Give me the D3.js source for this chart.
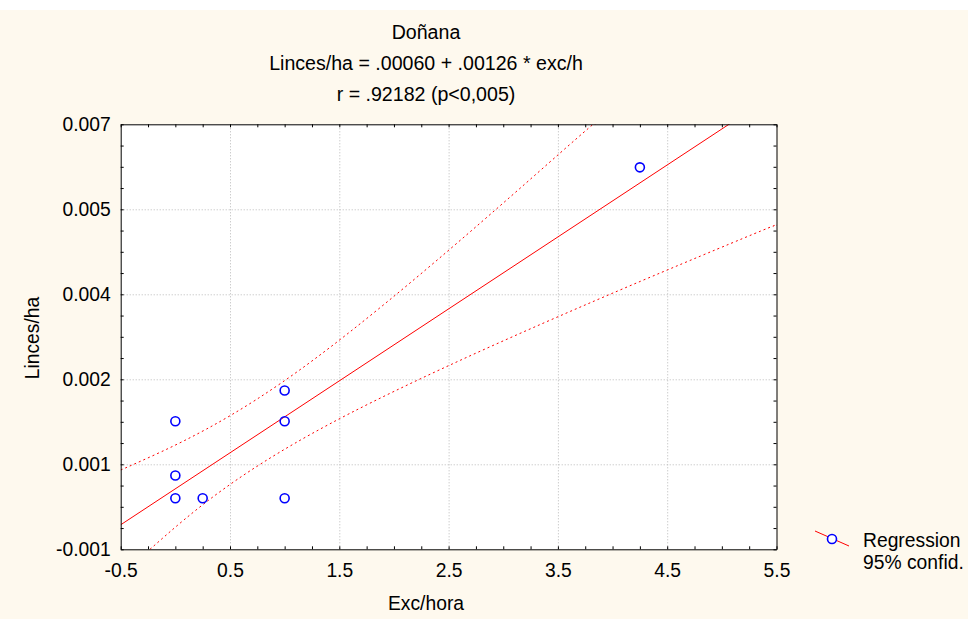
<!DOCTYPE html>
<html>
<head>
<meta charset="utf-8">
<script src="https://cdn.jsdelivr.net/npm/d3@7"></script>
<style>
  html, body { margin: 0; padding: 0; background: #ffffff; }
  svg { display: block; font-family: "Liberation Sans", Arial, sans-serif; }
</style>
</head>
<body>
<svg id="chart" width="968" height="619"></svg>
<script>
// ---- data ----
const excHora   = [0, 0, 0, 0.25, 1, 1, 1, 4.25];
const lincesHa  = [0.00141, 0.00039, -0.00004, -0.00004, 0.00199, 0.00141, -0.00004, 0.00619];

const xTickValues = [-0.5, 0.5, 1.5, 2.5, 3.5, 4.5, 5.5];
const xTickLabels = ["-0.5", "0.5", "1.5", "2.5", "3.5", "4.5", "5.5"];
const yTickValues = [-0.001, 0.0006, 0.0022, 0.0038, 0.0054, 0.007];
const yTickLabels = ["-0.001", "0.001", "0.002", "0.004", "0.005", "0.007"];

// 95% confidence band
const upperBandX = [-0.5, 1.262, 3.517, 3.838];
const upperBandY = [0.000492, 0.002563, 0.006454, 0.00699];
const lowerBandX = [-0.232, 1.598, 4.953, 5.471];
const lowerBandY = [-0.001, 0.00156, 0.004647, 0.005072];

const titleLines = ["Doñana", "Linces/ha = .00060 + .00126 * exc/h", "r = .92182 (p<0,005)"];
const xTitle = "Exc/hora";
const yTitle = "Linces/ha";
const legendLabels = ["Regression", "95% confid."];

// ---- layout ----
const W = 968, H = 619;
const L = 120.7, R = 776.5, T = 124.3, B = 549.3;
const svg = d3.select("#chart");

svg.append("rect").attr("x", 0).attr("y", 0).attr("width", W).attr("height", H).attr("fill", "#ffffff");
svg.append("rect").attr("x", 0).attr("y", 10).attr("width", W).attr("height", H - 10).attr("fill", "#fef9ee");
svg.append("rect").attr("x", L).attr("y", T).attr("width", R - L).attr("height", B - T).attr("fill", "#ffffff");

const x = d3.scaleLinear().domain([-0.5, 5.5]).range([L, R]);
const y = d3.scaleLinear().domain([-0.001, 0.007]).range([B, T]);

// grid
const grid = svg.append("g").attr("class", "grid");
grid.append("g").attr("transform", `translate(0,${B})`)
  .call(d3.axisBottom(x).tickValues(xTickValues.slice(1, -1)).tickSize(-(B - T)).tickFormat(""))
  .call(g => g.select(".domain").remove())
  .call(g => g.selectAll("line").attr("stroke", "#b8b8b8").attr("stroke-dasharray", "1,2"));
grid.append("g").attr("transform", `translate(${L},0)`)
  .call(d3.axisLeft(y).tickValues(yTickValues.slice(1, -1)).tickSize(-(R - L)).tickFormat(""))
  .call(g => g.select(".domain").remove())
  .call(g => g.selectAll("line").attr("stroke", "#b8b8b8").attr("stroke-dasharray", "1,2"));

// clip
svg.append("clipPath").attr("id", "plotclip")
  .append("rect").attr("x", L).attr("y", T).attr("width", R - L).attr("height", B - T);
const plot = svg.append("g").attr("clip-path", "url(#plotclip)");

// regression (least squares from the points)
const n = excHora.length;
const mx = d3.mean(excHora), my = d3.mean(lincesHa);
let sxy = 0, sxx = 0;
for (let i = 0; i < n; i++) { sxy += (excHora[i] - mx) * (lincesHa[i] - my); sxx += (excHora[i] - mx) ** 2; }
const slope = sxy / sxx, intercept = my - slope * mx;
const xDom = x.domain();
plot.append("line")
  .attr("x1", x(xDom[0])).attr("y1", y(intercept + slope * xDom[0]))
  .attr("x2", x(xDom[1])).attr("y2", y(intercept + slope * xDom[1]))
  .attr("stroke", "#ff0000").attr("stroke-width", 1);

const bandLine = d3.line().x(d => x(d[0])).y(d => y(d[1])).curve(d3.curveNatural);
[[upperBandX, upperBandY], [lowerBandX, lowerBandY]].forEach(([bx, by]) => {
  plot.append("path")
    .attr("d", bandLine(bx.map((v, i) => [v, by[i]])))
    .attr("fill", "none").attr("stroke", "#ff0000").attr("stroke-width", 1)
    .attr("stroke-dasharray", "2,3");
});

// points
svg.append("g").selectAll("circle").data(excHora.map((v, i) => [v, lincesHa[i]])).join("circle")
  .attr("cx", d => x(d[0])).attr("cy", d => y(d[1])).attr("r", 4.5)
  .attr("fill", "none").attr("stroke", "#0000ff").attr("stroke-width", 1.6);

// frame + ticks
const xMinor = d3.range(-0.5, 5.5001, 0.25);
const yMinor = d3.range(0, 21).map(i => -0.001 + i * 0.0004);
const tickStyle = g => { g.select(".domain").attr("stroke", "#000"); g.selectAll("line").attr("stroke", "#000"); };
svg.append("g").attr("transform", `translate(0,${B})`)
  .call(d3.axisBottom(x).tickValues(xMinor).tickSize(-3).tickSizeOuter(0).tickFormat("")).call(tickStyle);
svg.append("g").attr("transform", `translate(0,${T})`)
  .call(d3.axisTop(x).tickValues(xMinor).tickSize(-3).tickSizeOuter(0).tickFormat("")).call(tickStyle);
svg.append("g").attr("transform", `translate(${L},0)`)
  .call(d3.axisLeft(y).tickValues(yMinor).tickSize(-3).tickSizeOuter(0).tickFormat("")).call(tickStyle);
svg.append("g").attr("transform", `translate(${R},0)`)
  .call(d3.axisRight(y).tickValues(yMinor).tickSize(-3).tickSizeOuter(0).tickFormat("")).call(tickStyle);

// tick labels
const fs = 19.3;
svg.append("g").attr("transform", `translate(0,${B})`)
  .call(d3.axisBottom(x).tickValues(xTickValues).tickSize(0).tickPadding(14).tickFormat((d, i) => xTickLabels[i]))
  .call(g => g.select(".domain").remove())
  .call(g => g.selectAll("text").attr("font-size", fs).attr("font-family", "Liberation Sans, Arial").attr("fill", "#000"));
svg.append("g").attr("transform", `translate(${L},0)`)
  .call(d3.axisLeft(y).tickValues(yTickValues).tickSize(0).tickPadding(10).tickFormat((d, i) => yTickLabels[i]))
  .call(g => g.select(".domain").remove())
  .call(g => g.selectAll("text").attr("font-size", fs).attr("font-family", "Liberation Sans, Arial").attr("fill", "#000"));

// titles
svg.append("g").selectAll("text").data(titleLines).join("text")
  .attr("x", 426).attr("y", (d, i) => 39 + i * 31)
  .attr("text-anchor", "middle").attr("font-size", 19.6).attr("fill", "#000").text(d => d);
svg.append("text").attr("x", 426).attr("y", 610).attr("text-anchor", "middle")
  .attr("font-size", fs).attr("fill", "#000").text(xTitle);
svg.append("text").attr("transform", "translate(39,338) rotate(-90)").attr("text-anchor", "middle")
  .attr("font-size", fs).attr("fill", "#000").text(yTitle);

// legend
const lg = svg.append("g");
lg.append("line").attr("x1", 815).attr("y1", 531).attr("x2", 849).attr("y2", 546)
  .attr("stroke", "#ff0000").attr("stroke-width", 1);
lg.append("circle").attr("cx", 832).attr("cy", 539).attr("r", 4.5)
  .attr("fill", "#ffffff").attr("stroke", "#0000ff").attr("stroke-width", 1.6);
lg.selectAll("text.leg").data(legendLabels).join("text").attr("class", "leg")
  .attr("x", 863).attr("y", (d, i) => 547 + i * 22).attr("font-size", fs).attr("fill", "#000").text(d => d);
</script>
</body>
</html>
